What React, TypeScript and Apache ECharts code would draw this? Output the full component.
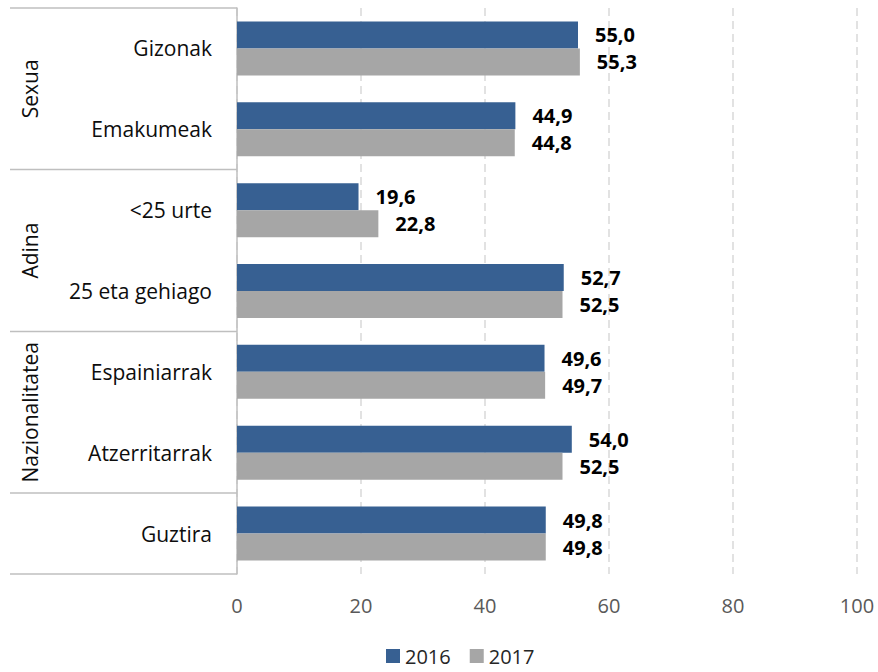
import React, { useEffect, useRef } from "react";
import * as echarts from "echarts";

const categories = ["Gizonak", "Emakumeak", "<25 urte", "25 eta gehiago", "Espainiarrak", "Atzerritarrak", "Guztira"];
const series2016 = [55.0, 44.9, 19.6, 52.7, 49.6, 54.0, 49.8];
const series2017 = [55.3, 44.8, 22.8, 52.5, 49.7, 52.5, 49.8];
const seriesNames = ["2016", "2017"];
// groups: [label, first category index, last category index]
const groups: [string, number, number][] = [
  ["Sexua", 0, 1],
  ["Adina", 2, 3],
  ["Nazionalitatea", 4, 5],
  ["", 6, 6],
];
const xTicks = [0, 20, 40, 60, 80, 100];

const FONT = "'Open Sans', sans-serif";
const BLUE = "#376092";
const GRAY = "#a6a6a6";
const LINE = "#bfbfbf";

export default function App() {
  const ref = useRef<HTMLDivElement>(null);
  useEffect(() => {
    if (!ref.current) return;
    const chart = echarts.init(ref.current, null, { renderer: "svg" });
    const fmt = (p: any) => p.value.toFixed(1).replace(".", ",");
    const option: any = {
      animation: false,
      textStyle: { fontFamily: FONT },
      grid: { left: 237, right: 21, top: 8, bottom: 98, containLabel: false },
      legend: {
        bottom: 1,
        left: 381,
        itemWidth: 14,
        itemHeight: 14,
        itemGap: 19,
        icon: "rect",
        textStyle: { fontSize: 20, color: "#262626", fontFamily: FONT },
        data: seriesNames,
      },
      xAxis: {
        type: "value",
        min: xTicks[0],
        max: xTicks[xTicks.length - 1],
        interval: 20,
        axisLine: { show: false },
        axisTick: { show: false },
        axisLabel: { fontSize: 20, color: "#595959", margin: 21, fontFamily: FONT },
        splitLine: { show: true, lineStyle: { color: "#d9d9d9", width: 1.5, type: [8, 5] } },
      },
      yAxis: {
        type: "category",
        inverse: true,
        data: categories,
        axisLine: { show: true, lineStyle: { color: LINE, width: 1.5 } },
        axisTick: { show: false },
        axisLabel: { fontSize: 21, color: "#0d0d0d", margin: 25, fontFamily: FONT },
      },
      series: [
        {
          name: seriesNames[0],
          type: "bar",
          data: series2016,
          barWidth: 27,
          barGap: "0%",
          itemStyle: { color: BLUE },
          label: { show: true, position: "right", distance: 17, formatter: fmt, fontSize: 20, fontWeight: "bold", color: "#000", fontFamily: FONT },
        },
        {
          name: seriesNames[1],
          type: "bar",
          data: series2017,
          barWidth: 27,
          barGap: "0%",
          itemStyle: { color: GRAY },
          label: { show: true, position: "right", distance: 17, formatter: fmt, fontSize: 20, fontWeight: "bold", color: "#000", fontFamily: FONT },
        },
      ],
    };
    chart.setOption(option);

    const c0 = chart.convertToPixel({ yAxisIndex: 0 }, 0) as number;
    const c1 = chart.convertToPixel({ yAxisIndex: 0 }, 1) as number;
    const band = c1 - c0;
    const axisX = chart.convertToPixel({ xAxisIndex: 0 }, 0) as number;
    const leftX = 10;
    const graphics: any[] = [];
    const boundaries = new Set<number>();
    groups.forEach(([label, s, e]) => {
      const top = (chart.convertToPixel({ yAxisIndex: 0 }, s) as number) - band / 2;
      const bot = (chart.convertToPixel({ yAxisIndex: 0 }, e) as number) + band / 2;
      boundaries.add(Math.round(top * 2) / 2);
      boundaries.add(Math.round(bot * 2) / 2);
      if (label) {
        graphics.push({
          type: "text",
          x: 30,
          y: (top + bot) / 2,
          rotation: Math.PI / 2,
          style: { text: label, fontSize: 21, fill: "#0d0d0d", fontFamily: FONT, align: "center", verticalAlign: "middle" },
        });
      }
    });
    boundaries.forEach((y) => {
      graphics.push({
        type: "line",
        shape: { x1: leftX, y1: y, x2: axisX, y2: y },
        style: { stroke: LINE, lineWidth: 1.5 },
      });
    });
    chart.setOption({ graphic: graphics });

    return () => chart.dispose();
  }, []);
  return <div ref={ref} style={{ position: "absolute", left: 0, top: 0, width: 878, height: 672 }} />;
}
